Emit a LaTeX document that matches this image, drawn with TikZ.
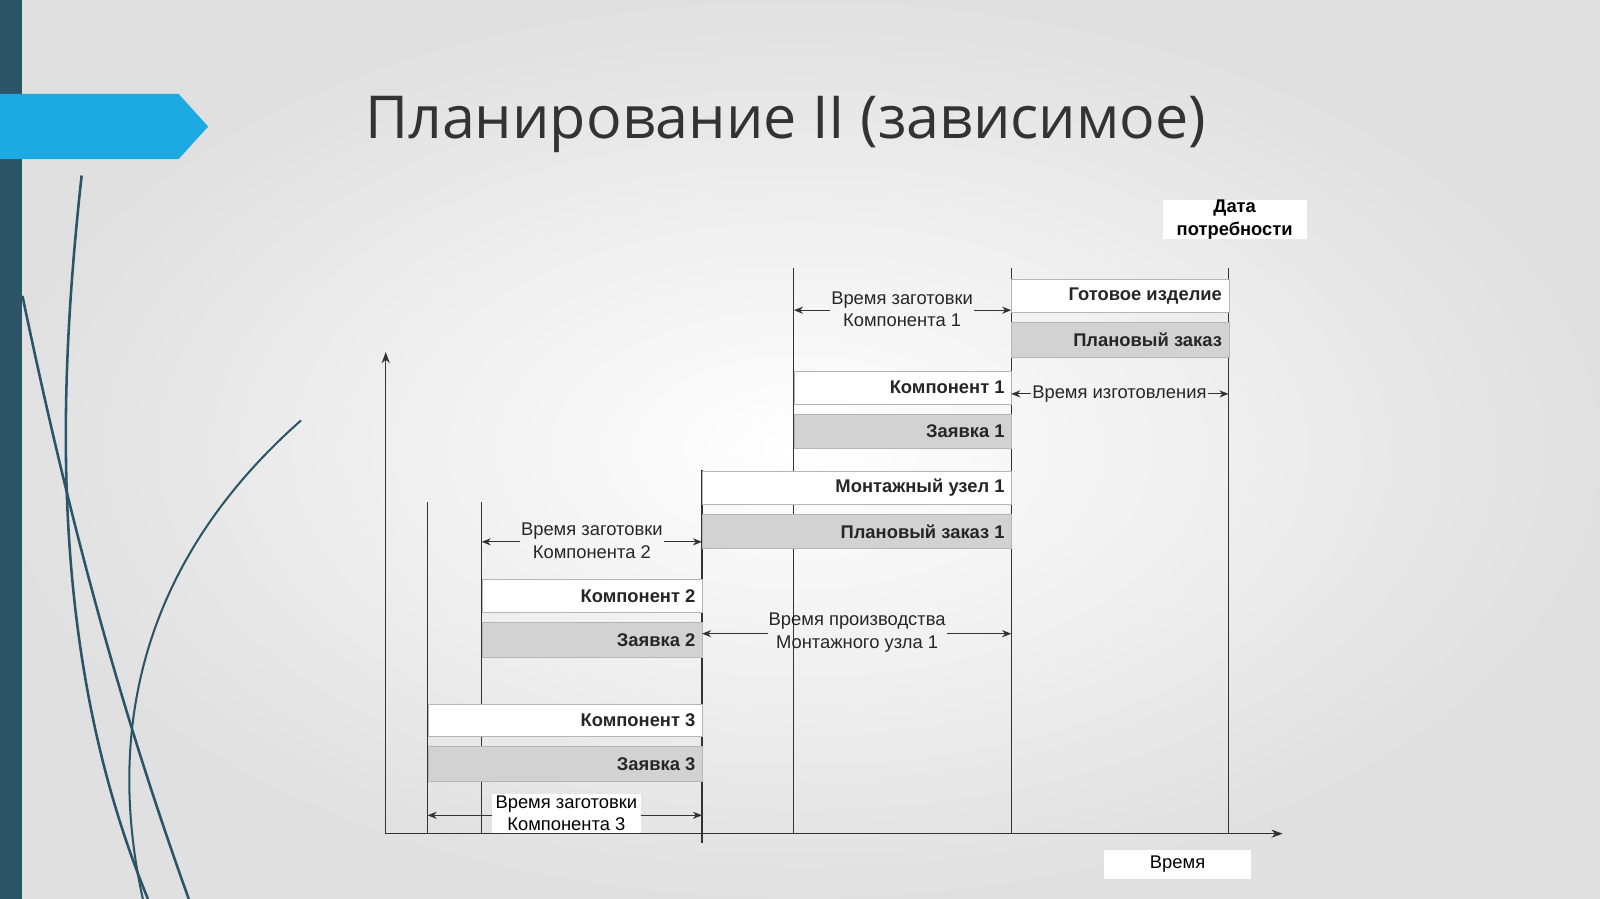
\documentclass[tikz,border=0pt]{standalone}
\usepackage{fontspec}
\setmainfont{Liberation Sans}
\newfontfamily\titlefont{Open Sans}
\usetikzlibrary{arrows.meta}
\definecolor{lineC}{HTML}{333333}
\definecolor{barG}{HTML}{D2D2D2}
\definecolor{barE}{HTML}{B5B5B5}
\definecolor{tealC}{HTML}{2C5467}
\definecolor{blueB}{HTML}{1DA9E1}
\tikzset{
  vl/.style={draw=lineC, line width=1.1pt},
  wbar/.style={fill=white, draw=barE, line width=1pt, minimum height=32pt, inner sep=4pt},
  gbar/.style={fill=barG, draw=barE, line width=1pt, minimum height=34pt, inner sep=4pt},
  btxt/.style={font=\fontsize{18}{20}\selectfont\bfseries, text=black!85},
  ltxt/.style={font=\fontsize{18}{22}\selectfont, text=black!85, align=center, inner sep=1pt},
  dim/.style={draw=lineC, line width=1pt, -{Stealth[length=9pt,width=7pt]}},
  wbox/.style={fill=white, font=\fontsize{18}{22}\selectfont, align=center, inner sep=0pt}
}
\newcommand{\mybar}[6]{\node[#1, minimum width=#3-#2, anchor=west] (#6) at (#2,#4) {};
  \node[btxt, anchor=east] at ([xshift=-4pt]#6.east) {#5};}
\begin{document}
\begin{tikzpicture}[x=1pt,y=-1pt]
\useasboundingbox (0,0) rectangle (1568,881);
\shade[inner color=white, outer color=black!12] (0,0) rectangle (1568,881);
\fill[tealC] (0,0) rectangle (22,881);
\draw[tealC, line width=2.5pt] (80,172) .. controls (55,400) and (50,650) .. (145,881);
\draw[tealC, line width=2.5pt] (22,290) .. controls (70,520) and (120,700) .. (185,881);
\draw[tealC, line width=2pt] (295,412) .. controls (150,540) and (100,700) .. (140,881);
\fill[blueB] (0,92) -- (175,92) -- (204,124) -- (175,156) -- (0,156) -- cycle;
\node[font=\titlefont\fontsize{58}{60}\selectfont, text=black!80] (title) at (770,122) {Планирование II (зависимое)};
\coordinate (o) at (378,817);
\coordinate (ytop) at (378,345);
\coordinate (xend) at (1257,817);
\draw[lineC, line width=1.2pt, -{Stealth[length=11pt,width=8pt]}] (o) -- (ytop);
\draw[lineC, line width=1.2pt, -{Stealth[length=11pt,width=8pt]}] (o) -- (xend);
\draw[vl] (419,492) -- (419,817);
\draw[vl] (472,492) -- (472,817);
\draw[vl] (688,461) -- (688,826);
\draw[vl] (778,263) -- (778,817);
\draw[vl] (991,263) -- (991,817);
\draw[vl] (1204,263) -- (1204,817);
\mybar{wbar}{991}{1204}{290}{Готовое изделие}{b1}
\mybar{gbar}{991}{1204}{333}{Плановый заказ}{b2}
\mybar{wbar}{778}{991}{380}{Компонент 1}{b3}
\mybar{gbar}{778}{991}{423}{Заявка 1}{b4}
\mybar{wbar}{688}{991}{478}{Монтажный узел 1}{b5}
\mybar{gbar}{688}{991}{521}{Плановый заказ 1}{b6}
\mybar{wbar}{472}{688}{584}{Компонент 2}{b7}
\mybar{gbar}{472}{688}{627}{Заявка 2}{b8}
\mybar{wbar}{419}{688}{706}{Компонент 3}{b9}
\mybar{gbar}{419}{688}{749}{Заявка 3}{b10}
\node[ltxt] (d1) at (884,303) {Время заготовки\\Компонента 1};
\coordinate (d1l) at (778,304); \coordinate (d1r) at (991,304);
\draw[dim] (d1.west|-d1l) -- (d1l); \draw[dim] (d1.east|-d1r) -- (d1r);
\node[ltxt] (d2) at (1097,386) {Время изготовления};
\coordinate (d2l) at (991,386); \coordinate (d2r) at (1204,386);
\draw[dim] (d2.west) -- (d2l); \draw[dim] (d2.east) -- (d2r);
\node[ltxt] (d3) at (580,530) {Время заготовки\\Компонента 2};
\coordinate (d3l) at (472,531); \coordinate (d3r) at (688,531);
\draw[dim] (d3.west|-d3l) -- (d3l); \draw[dim] (d3.east|-d3r) -- (d3r);
\node[ltxt] (d4) at (840,620) {Время производства\\Монтажного узла 1};
\coordinate (d4l) at (688,621); \coordinate (d4r) at (991,621);
\draw[dim] (d4.west|-d4l) -- (d4l); \draw[dim] (d4.east|-d4r) -- (d4r);
\node[wbox, minimum width=146pt, minimum height=38pt] (d5) at (555,797) {Время заготовки\\Компонента 3};
\coordinate (d5l) at (419,799); \coordinate (d5r) at (688,799);
\draw[dim] (d5.west|-d5l) -- (d5l); \draw[dim] (d5.east|-d5r) -- (d5r);
\node[wbox, font=\fontsize{18}{22}\selectfont\bfseries, minimum width=141pt, minimum height=34pt] (date) at (1210,215) {Дата\\потребности};
\node[wbox, minimum width=144pt, minimum height=29pt] (time) at (1154,847) {Время};
\end{tikzpicture}
\end{document}
